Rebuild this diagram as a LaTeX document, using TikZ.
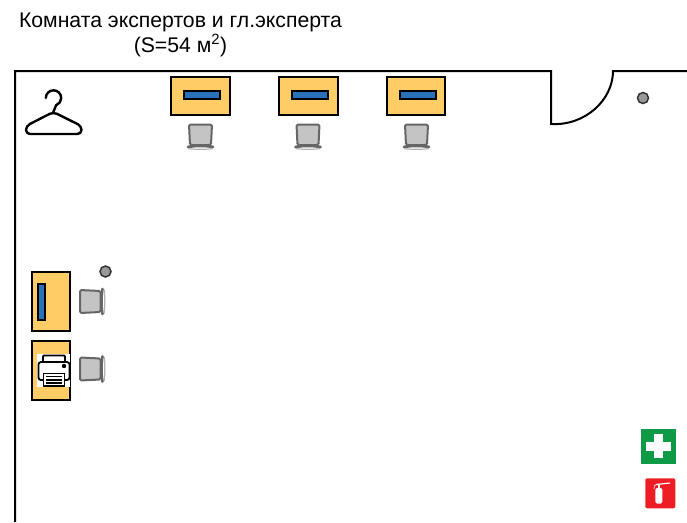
\documentclass[tikz,border=0pt]{standalone}
\usepackage{fontspec}
\setmainfont{Liberation Sans}
\definecolor{deskc}{HTML}{FFCC66}
\definecolor{monc}{HTML}{2A70BB}
\definecolor{chairc}{HTML}{C4C4C4}
\definecolor{chaird}{HTML}{666666}
\definecolor{dotc}{HTML}{999999}
\definecolor{greenc}{HTML}{0F9A48}
\definecolor{redc}{HTML}{EE1C25}
\tikzset{
  wall/.style={draw=black,line width=2pt},
  desk/.style={draw=black,line width=2pt,fill=deskc},
  monitor/.style={draw=black,line width=1.7pt,fill=monc},
  pin/.style={draw=black!80,line width=1.5pt,fill=dotc},
  seat/.style={draw=chaird,line width=2pt,fill=chairc,rounded corners=1.5pt},
  label/.style={font=\fontsize{21.2}{24.5}\selectfont,align=center,inner sep=0pt}
}
\newcommand{\chairat}[3]{%
  \begin{scope}[shift={(#1,#2)},rotate=#3]
    \draw[seat] (-11.5,-11.5) -- (11.5,-11.5) -- (10.5,9) -- (-10.5,9) -- cycle;
    \draw[chaird,line width=2.8pt,line cap=round] (-12.5,11) .. controls (-6,9.5) and (6,9.5) .. (12.5,11);
    \draw[chaird!50,line width=1.2pt] (-12,12.7) .. controls (-5,13.5) and (5,13.5) .. (12,12.7);
  \end{scope}}
\begin{document}
\begin{tikzpicture}[x=1pt,y=-1pt]
\useasboundingbox (0,0) rectangle (687,522);
\node[label] (title) at (180.5,35) {Комната экспертов и гл.эксперта\\(S=54 м\textsuperscript{2})};
\draw[wall] (15,522) -- (15,71) -- (551,71) -- (551,124) .. controls (585,126) and (613,100) .. (613,71) -- (687,71);
% desks
\draw[desk] (171,77) rectangle (230,115);
\draw[monitor] (184,91) rectangle (220,99);
\draw[desk] (279,77) rectangle (338,115);
\draw[monitor] (292,91) rectangle (328,99);
\draw[desk] (387,77) rectangle (445,115);
\draw[monitor] (400,91) rectangle (436,99);
\draw[desk] (32,272) rectangle (70,331);
\draw[monitor] (38,284) rectangle (45,320);
\draw[desk] (32,341) rectangle (70,400);
% chairs
\chairat{200.5}{136}{0}
\chairat{308}{136}{0}
\chairat{416.5}{136}{0}
\chairat{91.5}{301.5}{90}
\chairat{91.5}{369}{90}
% pins
\draw[pin] (643,98) circle (5.5);
\draw[pin] (105.5,271.5) circle (5.5);
% hanger
\draw[black,line width=2.4pt,line cap=round,line join=round]
  (45.8,98) arc[start angle=180,end angle=-70,x radius=7.7,y radius=-7.7] -- (53.3,112);
\draw[black,line width=2.4pt,line join=round,rounded corners=4pt]
  (53.3,112) -- (26,126) -- (26,134) -- (81.5,134) -- (81.5,126) -- cycle;
% printer
\fill[white] (37,354) rectangle (70,387);
\draw[black,line width=1.8pt,rounded corners=1pt] (43,362) -- (43,355.5) -- (65,355.5) -- (65,362);
\draw[black,line width=1.8pt,fill=white,rounded corners=2.5pt] (38.5,362) rectangle (69.5,380);
\fill[black] (64,366) circle (2.2);
\draw[black,line width=1.6pt,fill=white] (43.5,373.5) rectangle (64.5,386);
\foreach \yy in {376.5,379.8,383}{\draw[black,line width=1.6pt] (46,\yy) -- (62,\yy);}
% first aid
\fill[greenc] (641,429) rectangle (675.7,463.7);
\fill[white] (654.3,434.3) rectangle (663,458.3);
\fill[white] (646.3,441.7) rectangle (671,451);
% extinguisher
\fill[redc,rounded corners=2pt] (645.3,478.3) rectangle (675.3,508.3);
\fill[white,rounded corners=1.5pt] (655.3,488) rectangle (662.3,503.5);
\fill[white] (657.5,484.5) rectangle (660,488);
\draw[white,line width=1.2pt] (656,484.5) -- (670,483);
\draw[white,line width=0.6pt] (656,484.5) .. controls (654.5,485) and (654,486) .. (654,489);
\end{tikzpicture}
\end{document}
